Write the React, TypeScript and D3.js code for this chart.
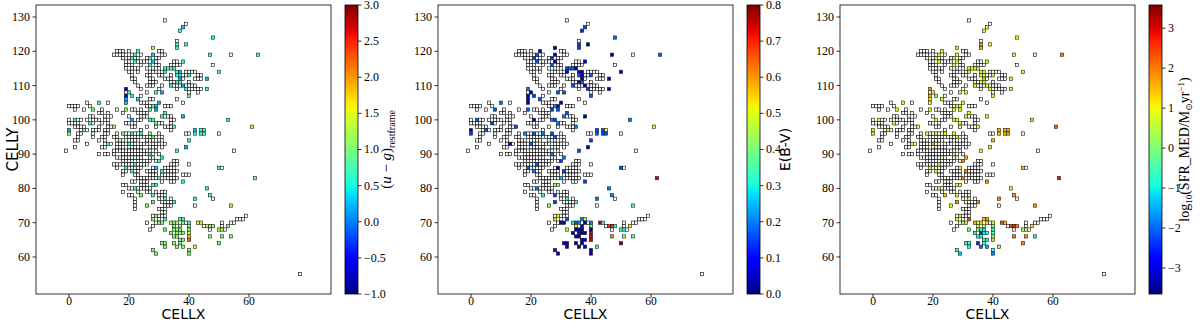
import * as d3 from 'd3';
import type { ReactNode } from 'react';

// cells without a measurement, drawn white: [CELLY, CELLX...]
const emptyRows: [number, number[]][] = [
  [129, [32]], [128, [39]], [123, [36]],
  [120, [16, 17, 18, 20, 30, 31]],
  [119, [15, 16, 17, 18, 19, 21, 24, 31, 32, 54]],
  [118, [18, 20, 22, 23, 26, 29, 30]],
  [117, [19, 20, 23, 24, 25, 26, 29, 35, 36]],
  [116, [19, 20, 21, 24, 29, 30, 34, 35, 36, 37, 48]],
  [115, [19, 21, 22, 23, 26, 28, 30]],
  [114, [20, 21, 23, 27, 28, 29, 31, 39, 40, 41, 42]],
  [113, [21, 26, 27, 30, 31, 34, 38, 39, 43, 44]],
  [112, [21, 22, 27, 28, 32, 33, 34, 38, 42, 43, 44]],
  [111, [22, 27, 28, 29, 34, 35, 40]],
  [110, [23, 26, 27, 28, 31, 35, 36, 37, 39, 40, 41, 42]],
  [109, [24, 30, 36, 40, 41, 42, 43, 44]],
  [108, [19, 26, 40, 43]],
  [107, [24]],
  [106, [27, 28, 36]],
  [105, [6, 13, 24, 25, 26, 38]],
  [104, [0, 1, 2, 3, 7, 26, 27, 32, 33, 34]],
  [103, [2, 5, 11, 16, 21, 22, 24]],
  [102, [10, 11, 13, 18, 23, 24, 25, 26]],
  [101, [7, 8, 12, 14, 20, 24, 25, 26, 32, 33, 34]],
  [100, [0, 3, 4, 6, 8, 9, 10, 12, 13, 23, 24, 34, 35]],
  [99, [0, 1, 2, 3, 8, 11, 13, 19, 20, 22, 30, 31, 34]],
  [98, [2, 3, 4, 5, 10, 13, 14, 21, 22, 26, 29, 32, 33, 34]],
  [97, [4, 6, 8, 9, 10, 12, 13, 24, 34]],
  [96, [3, 4, 8, 12, 13, 16, 19, 20, 22, 23, 30, 39, 40, 50]],
  [95, [3, 8, 11, 12, 15, 16, 19, 20, 21, 22, 23, 24, 25, 26, 27, 29, 31]],
  [94, [2, 3, 10, 12, 16, 17, 18, 20, 21, 22, 23, 26, 27, 28, 30, 31]],
  [93, [6, 12, 14, 16, 17, 18, 19, 21, 22, 24, 25, 26, 28, 29, 30, 32]],
  [92, [2, 11, 12, 16, 17, 18, 20, 21, 22, 23, 24, 27, 28, 29, 31]],
  [91, [-1, 15, 16, 17, 18, 19, 20, 21, 22, 23, 24, 25, 26, 27, 29, 55]],
  [90, [10, 12, 13, 15, 18, 19, 20, 21, 22, 23, 24, 25, 26, 28, 30]],
  [89, [16, 17, 18, 19, 20, 21, 22, 23, 24, 27, 28]],
  [88, [18, 19, 20, 21, 22, 23, 24, 25, 26, 27, 29, 35, 36]],
  [87, [15, 16, 17, 18, 19, 20, 21, 23, 24, 25, 26, 34, 35, 36, 40]],
  [86, [16, 20, 21, 22, 23, 24, 28, 32, 33, 34, 35, 51]],
  [85, [18, 19, 22, 23, 26, 27, 28, 29, 32, 33, 34, 35, 36]],
  [84, [18, 22, 23, 27, 28, 29, 31, 32, 33, 34, 35, 38, 39, 40]],
  [83, [23, 24, 25, 26, 27, 28, 29, 32, 33, 34, 35, 36]],
  [82, [21, 22, 24, 25, 26, 31, 34, 35]],
  [81, [18, 19, 24, 25, 26]],
  [80, [20, 21, 23, 24, 25, 26, 27]],
  [79, [18, 23, 26, 27, 29, 31, 32]],
  [78, [20, 21, 30, 31, 32]],
  [77, [22, 30, 34, 48]],
  [76, [22, 31, 32, 33, 34]],
  [75, [22, 32, 33, 34, 42]],
  [74, [22, 30, 31, 32]],
  [73, [31, 32]],
  [72, [28, 30, 31, 32, 59]],
  [71, [30, 56, 57, 58]],
  [70, [26, 29, 39, 51, 54, 55]],
  [69, [28, 45, 47, 51]],
  [68, [27, 47, 52]],
  [55, [77]],
];

// measured cells [CELLX, CELLY]; the three value lists below follow the same order
const measuredCells: [number, number][] = [
  [38, 127], [37, 126], [48, 124], [36, 122], [39, 122], [36, 121], [28, 121],
  [23, 120], [22, 119], [28, 119], [47, 119], [63, 119], [21, 118], [27, 118],
  [22, 117], [28, 117], [38, 117], [27, 116], [32, 115], [34, 115], [35, 115],
  [32, 114], [36, 114], [37, 114], [50, 114], [36, 113], [37, 113], [40, 113],
  [37, 112], [46, 112], [36, 111], [37, 111], [34, 110], [38, 110], [19, 109],
  [39, 109], [46, 109], [20, 108], [29, 108], [31, 108], [19, 107], [21, 107],
  [40, 107], [19, 106], [23, 106], [19, 105], [30, 105], [10, 105], [29, 104],
  [28, 104], [8, 103], [19, 103], [27, 103], [29, 103], [32, 102], [31, 101],
  [38, 101], [2, 100], [21, 100], [27, 100], [28, 100], [53, 100], [7, 99],
  [29, 99], [15, 98], [35, 98], [61, 98], [0, 97], [5, 97], [42, 97],
  [44, 97], [45, 97], [0, 96], [18, 96], [21, 96], [24, 96], [27, 96],
  [42, 96], [44, 96], [45, 96], [28, 95], [40, 94], [13, 93], [20, 93],
  [39, 92], [36, 91], [27, 90], [31, 89], [30, 88], [22, 87], [19, 86],
  [29, 86], [50, 86], [21, 85], [31, 85], [30, 83], [62, 83], [38, 82],
  [28, 81], [29, 81], [22, 80], [46, 80], [24, 78], [28, 78], [47, 78],
  [42, 77], [32, 77], [28, 76], [35, 76], [26, 75], [54, 75], [29, 72],
  [28, 71], [32, 71], [37, 71], [38, 71], [30, 70], [31, 70], [34, 70],
  [35, 70], [36, 70], [38, 70], [40, 70], [43, 70], [44, 70], [35, 69],
  [37, 69], [40, 69], [46, 69], [47, 69], [48, 69], [53, 69], [32, 68],
  [35, 68], [36, 68], [37, 68], [40, 68], [50, 68], [51, 68], [34, 67],
  [36, 67], [37, 67], [38, 67], [40, 67], [35, 66], [36, 66], [40, 66],
  [47, 66], [51, 66], [54, 66], [37, 65], [38, 65], [40, 65], [31, 64],
  [32, 64], [35, 64], [37, 64], [50, 64], [32, 63], [36, 63], [38, 63],
  [42, 63], [28, 62], [40, 62], [29, 61], [40, 61], [33, 115],
];

// (u-g) restframe
const ugRest: number[] = [
  0.3, 0.7, 0.5, 0.6, 0.7, 0.7, 1.4,
  0.7, 0.6, 0.3, 0.6, 0.6, 0.7, 0.7,
  0.8, 0.3, 0.7, 0.6, 0.7, 1.0, 0.6,
  0.6, 0.7, 0.2, 0.9, 0.6, 0.5, 0.6,
  0.2, 0.2, 0.7, 0.8, 0.7, 0.2, -0.8,
  0.7, 0.6, 0.5, 0.7, 0.2, -0.9, 0.7,
  1.0, 0.2, 0.3, 0.3, 0.2, 0.7, 0.2,
  0.8, 1.0, 1.1, 0.9, 0.2, 0.7, 0.7,
  0.2, 0.6, 0.2, 0.7, 0.7, 0.6, 0.7,
  1.0, 1.1, 0.7, 1.3, 0.2, 1.0, 0.3,
  0.6, 0.7, 1.1, 1.0, 0.7, 0.7, 1.2,
  0.7, 0.6, 0.7, 0.6, 0.6, 0.7, 0.8,
  0.2, 0.7, 0.7, 0.6, 0.7, 0.8, 0.7,
  0.3, 0.6, 0.7, 0.7, 0.7, 1.0, 0.6,
  0.7, 0.7, 0.7, 0.6, 1.1, 0.8, 0.6,
  0.7, 0.7, 0.8, 0.7, 1.1, 1.3, 1.1,
  1.1, 0.7, 0.7, 0.7, 1.0, 1.0, 1.4,
  1.0, 1.2, 1.1, 0.7, 1.4, 1.2, 1.0,
  1.1, 1.0, 1.3, 1.2, 1.1, 1.1, 1.0,
  1.1, 1.0, 1.0, 1.0, 1.2, 1.2, 1.1,
  1.0, 1.2, 1.1, 1.4, 1.0, 1.2, 1.8,
  1.1, 1.0, 1.0, 1.0, 1.0, 2.2, 1.0,
  1.1, 1.1, 1.0, 1.0, 1.0, 1.1, 1.0,
  1.5, 1.0, 1.1, 1.0, 1.0, 0.8,
];

// E(B-V)
const ebv: number[] = [
  0.15, 0.12, 0.18, 0.15, 0.03, 0.15, 0.03,
  0.05, 0.17, 0.05, 0.03, 0.18, 0.17, 0.15,
  0.17, 0.03, 0.05, 0.17, 0.15, 0.17, 0.05,
  0.05, 0.05, 0.02, 0.03, 0.17, 0.05, 0.17,
  0.03, 0.03, 0.05, 0.17, 0.17, 0.05, 0.2,
  0.15, 0.05, 0.05, 0.17, 0.17, 0.03, 0.15,
  0.17, 0.03, 0.17, 0.03, 0.05, 0.2, 0.03,
  0.2, 0.17, 0.17, 0.15, 0.17, 0.17, 0.2,
  0.03, 0.17, 0.03, 0.2, 0.15, 0.2, 0.15,
  0.2, 0.17, 0.2, 0.5, 0.03, 0.17, 0.15,
  0.15, 0.5, 0.15, 0.2, 0.17, 0.2, 0.17,
  0.17, 0.15, 0.17, 0.17, 0.15, 0.03, 0.17,
  0.03, 0.17, 0.2, 0.2, 0.15, 0.17, 0.17,
  0.05, 0.15, 0.2, 0.15, 0.25, 0.75, 0.15,
  0.42, 0.45, 0.2, 0.2, 0.3, 0.15, 0.2,
  0.2, 0.3, 0.15, 0.35, 0.42, 0.35, 0.5,
  0.55, 0.17, 0.2, 0.45, 0.05, 0.02, 0.3,
  0.17, 0.2, 0.05, 0.2, 0.75, 0.3, 0.5,
  0.05, 0.4, 0.7, 0.7, 0.3, 0.5, 0.45,
  0.02, 0.02, 0.03, 0.02, 0.35, 0.3, 0.03,
  0.03, 0.01, 0.03, 0.75, 0.03, 0.01, 0.75,
  0.6, 0.45, 0.35, 0.02, 0.05, 0.75, 0.05,
  0.02, 0.02, 0.03, 0.8, 0.02, 0.02, 0.02,
  0.35, 0.1, 0.03, 0.02, 0.02, 0.17,
];

// log10(SFR_MED / Msun yr^-1)
const logSfr: number[] = [
  0.8, 0.9, 0.9, 1.8, 0.9, 1.7, 0.8,
  0.8, 0.9, 0.8, 0.9, 1.9, 0.9, 0.8,
  0.8, 0.9, 0.8, 0.7, 0.8, 0.9, 0.8,
  0.8, 0.9, 0.8, 0.8, 0.8, 0.8, 0.8,
  1.5, 0.8, 0.8, 0.8, 0.8, 0.8, 1.8,
  0.9, 0.8, 1.0, 0.8, 0.9, 1.5, 0.3,
  0.9, 0.9, 0.9, 0.9, 1.0, 0.8, 0.8,
  1.0, 0.9, 0.8, 0.9, 0.8, 0.9, 0.9,
  0.8, 0.8, 1.0, 0.9, 0.9, 0.3, 0.8,
  1.0, 0.9, 0.8, 2.2, 0.9, 1.0, 1.5,
  1.5, 1.6, 0.3, 0.8, 0.9, 0.8, 0.9,
  1.5, 1.6, 1.7, 0.8, 1.5, 0.9, 1.6,
  0.8, 0.9, 0.8, 1.6, 1.8, 0.8, 0.8,
  1.0, 1.5, 0.9, 1.9, 1.9, 2.8, 1.8,
  0.9, 0.9, 1.0, 0.9, 1.5, 0.5, 1.8,
  1.9, 1.0, 1.8, 1.9, 1.0, 1.8, 0.8,
  1.0, 2.5, 1.5, 1.7, 0.5, 0.3, 1.6,
  1.0, 1.3, 0.5, 0.8, 2.4, 1.5, 1.0,
  0.9, 0.3, 2.5, 2.7, 2.0, 1.2, 0.0,
  0.0, -0.5, -1.0, -0.8, 0.5, 0.6, -1.0,
  -2.5, -1.0, -0.8, -0.5, -0.7, -0.8, 0.3,
  2.0, 1.8, -0.8, -0.5, -1.0, 0.5, -0.8,
  -0.5, -2.5, -0.5, 1.9, -0.8, -2.0, -1.5,
  0.5, -0.8, -0.6, -1.3, -1.8, 0.85,
];

const xTicks = [0, 20, 40, 60];
const yTicks = [60, 70, 80, 90, 100, 110, 120, 130];
const ugTicks = [-1.0, -0.5, 0.0, 0.5, 1.0, 1.5, 2.0, 2.5, 3.0];
const ebvTicks = [0.0, 0.1, 0.2, 0.3, 0.4, 0.5, 0.6, 0.7, 0.8];
const sfrTicks = [-3, -2, -1, 0, 1, 2, 3];

const plotTop = 5;
const plotW = 295;
const plotH = 289;
const panelLeft = [36, 438, 840];
const xDomain: [number, number] = [-11, 87.33];
const yDomain: [number, number] = [49.2, 133.5];
const markerSide = 3.3;

// matplotlib "jet"
const jetR = d3.scaleLinear([0, 0.35, 0.66, 0.89, 1], [0, 0, 1, 1, 0.5]).clamp(true);
const jetG = d3.scaleLinear([0, 0.125, 0.375, 0.64, 0.91, 1], [0, 0, 1, 1, 0, 0]).clamp(true);
const jetB = d3.scaleLinear([0, 0.11, 0.34, 0.65, 1], [0.5, 1, 1, 0, 0]).clamp(true);
const jet = (t: number) => d3.rgb(jetR(t) * 255, jetG(t) * 255, jetB(t) * 255).formatHex();

const serif = '"Liberation Serif", "DejaVu Serif", serif';
const sans = '"DejaVu Sans", sans-serif';

const emptyCells = emptyRows.flatMap(([y, xs]) => xs.map((x) => [x, y] as [number, number]));

type PanelSpec = {
  values: number[];
  range: [number, number];
  ticks: number[];
  fmt: (v: number) => string;
  label: ReactNode;
  labelX: number;
};

const panels: PanelSpec[] = [
  {
    values: ugRest,
    range: [-1, 3],
    ticks: ugTicks,
    fmt: d3.format('.1f'),
    labelX: 46,
    label: (
      <text fontFamily={serif} fontSize={15}>
        (<tspan fontStyle="italic">u</tspan> − <tspan fontStyle="italic">g</tspan>)
        <tspan fontSize={10} dy={4}>restframe</tspan>
      </text>
    ),
  },
  {
    values: ebv,
    range: [0, 0.8],
    ticks: ebvTicks,
    fmt: d3.format('.1f'),
    labelX: 43,
    label: (
      <text fontFamily={sans} fontSize={14}>
        E(B-V)
      </text>
    ),
  },
  {
    values: logSfr,
    range: [-3.65, 3.58],
    ticks: sfrTicks,
    fmt: (v) => (v < 0 ? '−' + Math.abs(v) : String(v)),
    labelX: 40,
    label: (
      <text fontFamily={serif} fontSize={14}>
        log<tspan fontSize={9} dy={3}>10</tspan>
        <tspan dy={-3}>(SFR_MED/M</tspan>
        <tspan fontSize={9} dy={3}>⊙</tspan>
        <tspan dy={-3}>yr</tspan>
        <tspan fontSize={9} dy={-5}>−1</tspan>
        <tspan dy={5}>)</tspan>
      </text>
    ),
  },
];

function Panel({ spec, index }: { spec: PanelSpec; index: number }) {
  const left = panelLeft[index];
  const x = d3.scaleLinear().domain(xDomain).range([0, plotW]);
  const y = d3.scaleLinear().domain(yDomain).range([plotH, 0]);
  const half = markerSide / 2;
  const c = d3.scaleLinear().domain(spec.range).range([0, 1]).clamp(true);
  const cbX = plotW + 14;
  const cbW = 13;
  const cy = d3.scaleLinear().domain(spec.range).range([plotH, 0]);
  const gradId = `grad${index}`;
  const stops = d3.range(0, 1.0001, 0.02);

  return (
    <g transform={`translate(${left},${plotTop})`}>
      <defs>
        <linearGradient id={gradId} x1="0" y1="1" x2="0" y2="0">
          {stops.map((t) => (
            <stop key={t} offset={t} stopColor={jet(t)} />
          ))}
        </linearGradient>
      </defs>
      {emptyCells.map(([cx, cyv], i) => (
        <rect
          key={`e${i}`}
          x={x(cx) - half}
          y={y(cyv) - half}
          width={markerSide}
          height={markerSide}
          fill="#ffffff"
          stroke="#000"
          strokeWidth={0.6}
        />
      ))}
      {measuredCells.map(([cx, cyv], i) => (
        <rect
          key={`m${i}`}
          x={x(cx) - half}
          y={y(cyv) - half}
          width={markerSide}
          height={markerSide}
          fill={jet(c(spec.values[i]))}
          stroke="#222"
          strokeWidth={0.6}
        />
      ))}
      <rect width={plotW} height={plotH} fill="none" stroke="#000" strokeWidth={0.8} />
      {xTicks.map((t) => (
        <g key={`xt${t}`} transform={`translate(${x(t)},${plotH})`}>
          <line y2={3.5} stroke="#000" strokeWidth={0.8} />
          <text y={11} textAnchor="middle" fontFamily={serif} fontSize={11.5}>
            {t}
          </text>
        </g>
      ))}
      {yTicks.map((t) => (
        <g key={`yt${t}`} transform={`translate(0,${y(t)})`}>
          <line x2={-3.5} stroke="#000" strokeWidth={0.8} />
          <text x={-6} dy="0.33em" textAnchor="end" fontFamily={serif} fontSize={12}>
            {t}
          </text>
        </g>
      ))}
      <text x={plotW / 2} y={plotH + 24.5} textAnchor="middle" fontFamily={sans} fontSize={14}>
        CELLX
      </text>
      {index === 0 && (
        <text
          transform={`translate(${-18},${plotH / 2}) rotate(-90)`}
          textAnchor="middle"
          fontFamily={sans}
          fontSize={15}
        >
          CELLY
        </text>
      )}
      <g transform={`translate(${cbX},0)`}>
        <rect width={cbW} height={plotH} fill={`url(#${gradId})`} />
        <rect width={cbW} height={plotH} fill="none" stroke="#000" strokeWidth={0.8} />
        {spec.ticks.map((t) => (
          <g key={`ct${t}`} transform={`translate(${cbW},${cy(t)})`}>
            <line x2={3.5} stroke="#000" strokeWidth={0.8} />
            <text x={6} dy="0.33em" fontFamily={serif} fontSize={12}>
              {spec.fmt(t)}
            </text>
          </g>
        ))}
        <g transform={`translate(${spec.labelX},${plotH / 2}) rotate(-90)`} textAnchor="middle">
          {spec.label}
        </g>
      </g>
    </g>
  );
}

export default function App() {
  return (
    <svg
      width={1200}
      height={321}
      style={{ position: 'fixed', left: 0, top: 0, background: '#fff' }}
    >
      {panels.map((p, i) => (
        <Panel key={i} spec={p} index={i} />
      ))}
    </svg>
  );
}
